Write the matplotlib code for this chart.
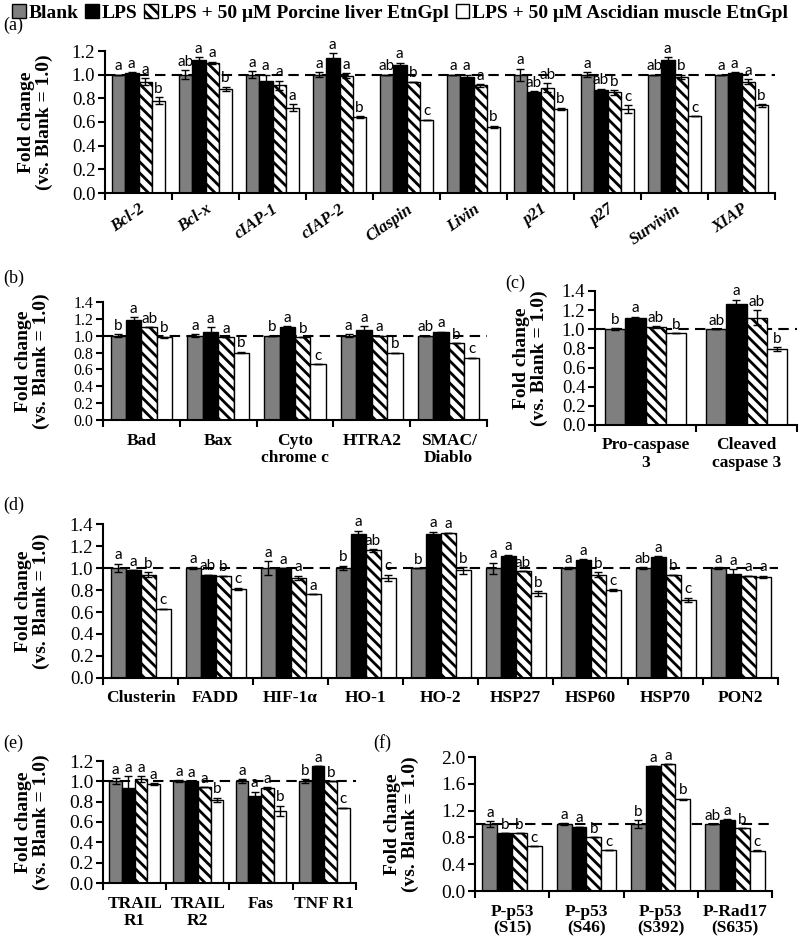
import numpy as np
import matplotlib
matplotlib.use("Agg")
import matplotlib.pyplot as plt
from matplotlib.patches import Patch

plt.rcParams['font.family'] = ['Liberation Serif', 'DejaVu Serif']
plt.rcParams['hatch.linewidth'] = 2.0
plt.rcParams['axes.linewidth'] = 1.5

W, H = 800, 943

series_names = ["Blank", "LPS", "LPS + 50 \u03bcM Porcine liver EtnGpl",
                "LPS + 50 \u03bcM Ascidian muscle EtnGpl"]

# (a)
a_cats = ["Bcl-2", "Bcl-x", "cIAP-1", "cIAP-2", "Claspin", "Livin", "p21", "p27", "Survivin", "XIAP"]
a_blank = [1.00, 1.00, 1.00, 1.00, 1.00, 1.00, 1.00, 1.00, 1.00, 1.00]
a_lps = [1.01, 1.12, 0.95, 1.14, 1.08, 0.98, 0.85, 0.87, 1.12, 1.01]
a_por = [0.94, 1.10, 0.91, 0.99, 0.94, 0.91, 0.89, 0.85, 0.98, 0.94]
a_asc = [0.78, 0.88, 0.72, 0.64, 0.62, 0.56, 0.71, 0.71, 0.65, 0.74]
a_err_blank = [0.00, 0.04, 0.03, 0.02, 0.00, 0.00, 0.05, 0.02, 0.00, 0.00]
a_err_lps = [0.01, 0.03, 0.05, 0.04, 0.02, 0.02, 0.01, 0.01, 0.03, 0.01]
a_err_por = [0.03, 0.01, 0.04, 0.02, 0.00, 0.01, 0.04, 0.02, 0.02, 0.02]
a_err_asc = [0.03, 0.02, 0.03, 0.01, 0.00, 0.01, 0.01, 0.03, 0.00, 0.01]
a_sig = ["a a a b", "ab a a b", "a a a a", "a a a b", "ab a b c",
         "a a a b", "a ab ab b", "a ab b c", "ab a b c", "a a a b"]

# (b)
b_cats = ["Bad", "Bax", "Cyto\nchrome c", "HTRA2", "SMAC/\nDiablo"]
b_blank = [1.00, 1.00, 1.00, 1.00, 1.00]
b_lps = [1.19, 1.04, 1.10, 1.07, 1.04]
b_por = [1.10, 0.98, 0.98, 1.00, 0.91]
b_asc = [0.98, 0.80, 0.66, 0.80, 0.74]
b_err_blank = [0.02, 0.02, 0.00, 0.02, 0.00]
b_err_lps = [0.03, 0.06, 0.01, 0.04, 0.01]
b_err_por = [0.00, 0.00, 0.00, 0.00, 0.00]
b_err_asc = [0.01, 0.01, 0.00, 0.00, 0.00]
b_sig = ["b a ab b", "a a a b", "b a b c", "a a a b", "ab a b c"]

# (c)
c_cats = ["Pro-caspase\n3", "Cleaved\ncaspase 3"]
c_blank = [1.00, 1.00]
c_lps = [1.12, 1.26]
c_por = [1.02, 1.12]
c_asc = [0.96, 0.79]
c_err_blank = [0.01, 0.00]
c_err_lps = [0.01, 0.05]
c_err_por = [0.01, 0.08]
c_err_asc = [0.00, 0.02]
c_sig = ["b a ab b", "ab a ab b"]

# (d)
d_cats = ["Clusterin", "FADD", "HIF-1\u03b1", "HO-1", "HO-2", "HSP27", "HSP60", "HSP70", "PON2"]
d_blank = [1.00, 1.00, 1.00, 1.00, 1.00, 1.00, 1.00, 1.00, 1.00]
d_lps = [0.98, 0.94, 1.00, 1.31, 1.31, 1.11, 1.07, 1.10, 0.95]
d_por = [0.94, 0.93, 0.91, 1.16, 1.32, 0.97, 0.94, 0.94, 0.93]
d_asc = [0.63, 0.81, 0.76, 0.91, 0.98, 0.77, 0.80, 0.71, 0.92]
d_err_blank = [0.04, 0.01, 0.06, 0.02, 0.00, 0.05, 0.01, 0.01, 0.01]
d_err_lps = [0.00, 0.00, 0.00, 0.03, 0.02, 0.01, 0.01, 0.01, 0.04]
d_err_por = [0.02, 0.00, 0.02, 0.01, 0.00, 0.00, 0.02, 0.00, 0.00]
d_err_asc = [0.00, 0.01, 0.00, 0.03, 0.03, 0.02, 0.01, 0.02, 0.01]
d_sig = ["a a b c", "a ab b c", "a a a a", "b a ab c", "b a a b",
         "a a ab b", "a a b c", "ab a b c", "a a a a"]

# (e)
e_cats = ["TRAIL\nR1", "TRAIL\nR2", "Fas", "TNF R1"]
e_blank = [1.00, 1.00, 1.00, 1.00]
e_lps = [0.93, 1.00, 0.86, 1.15]
e_por = [1.02, 0.94, 0.93, 1.00]
e_asc = [0.97, 0.82, 0.71, 0.74]
e_err_blank = [0.03, 0.01, 0.02, 0.02]
e_err_lps = [0.12, 0.00, 0.04, 0.00]
e_err_por = [0.03, 0.00, 0.01, 0.00]
e_err_asc = [0.01, 0.02, 0.05, 0.00]
e_sig = ["a a a a", "a a a b", "a a a b", "b a b c"]

# (f)
f_cats = ["P-p53\n(S15)", "P-p53\n(S46)", "P-p53\n(S392)", "P-Rad17\n(S635)"]
f_blank = [1.00, 1.00, 1.00, 1.00]
f_lps = [0.86, 0.96, 1.86, 1.06]
f_por = [0.86, 0.80, 1.89, 0.94]
f_asc = [0.67, 0.61, 1.37, 0.60]
f_err_blank = [0.04, 0.01, 0.06, 0.00]
f_err_lps = [0.00, 0.00, 0.00, 0.01]
f_err_por = [0.00, 0.00, 0.00, 0.00]
f_err_asc = [0.00, 0.00, 0.01, 0.01]
f_sig = ["a b b c", "a a b c", "b a a b", "ab a b c"]

fills = ['#7f7f7f', 'black', 'white', 'white']
hatches = [None, None, '\\\\\\', None]


def px_axes(fig, left, top, right, bottom):
    return fig.add_axes([left / W, 1 - bottom / H, (right - left) / W, (bottom - top) / H])


def draw_panel(ax, cats, vals, errs, sig, ymax, ystep, tick_fs=13.5,
               lab_fs=12.5, rot=0, italic=False, ylab_right=None, ax_px=None):
    n = len(cats)
    x = np.arange(n) + 0.5
    w = 0.2
    letters = [s.split() for s in sig]
    ax.axhline(1.0, color='black', ls=(0, (5, 3)), lw=1.5, zorder=1)
    for k in range(4):
        xs = x + (k - 1.5) * w
        ax.bar(xs, vals[k], w, yerr=errs[k], color=fills[k], edgecolor='black',
               lw=1, hatch=hatches[k], capsize=3, zorder=2,
               error_kw=dict(elinewidth=1, capthick=1, ecolor='black', zorder=3))
        for i in range(n):
            ax.annotate(letters[i][k], (xs[i], vals[k][i] + errs[k][i]),
                        xytext=(0, 1), textcoords='offset points', ha='center',
                        va='bottom', fontsize=11, family='Lato')
    ax.set_xlim(0, n)
    ax.set_ylim(0, ymax)
    ax.set_yticks(np.arange(0, ymax + 1e-9, ystep))
    ax.set_yticklabels(["%.1f" % t for t in np.arange(0, ymax + 1e-9, ystep)], fontsize=tick_fs)
    ax.set_xticks(np.arange(n + 1))
    ax.set_xticklabels([])
    ax.set_xticks(x, minor=True)
    if rot:
        ax.set_xticklabels(cats, minor=True, fontsize=lab_fs, fontweight='bold',
                           fontstyle='italic' if italic else 'normal',
                           rotation=rot, ha='right', rotation_mode='anchor')
    else:
        ax.set_xticklabels(cats, minor=True, fontsize=lab_fs, fontweight='bold',
                           linespacing=1.1)
    ax.tick_params(axis='both', which='major', direction='out', length=5, width=1.5)
    ax.tick_params(axis='y', pad=2)
    ax.tick_params(axis='x', which='minor', length=0, pad=9)
    for s in ['top', 'right']:
        ax.spines[s].set_visible(False)
    ax.set_ylabel("Fold change\n(vs. Blank = 1.0)", fontsize=14, fontweight='bold',
                  linespacing=1.05)
    left, right = ax_px
    ax.yaxis.set_label_coords((ylab_right - left) / (right - left), 0.5)


fig = plt.figure(figsize=(W / 100, H / 100), dpi=100)

ax_a = px_axes(fig, 105, 51, 775, 193)
draw_panel(ax_a, a_cats, [a_blank, a_lps, a_por, a_asc],
           [a_err_blank, a_err_lps, a_err_por, a_err_asc], a_sig, 1.2, 0.2,
           rot=35, italic=True, lab_fs=12, ylab_right=53, ax_px=(105, 775))
ax_a.tick_params(axis='x', which='minor', pad=6)

ax_b = px_axes(fig, 103, 302, 487, 420)
draw_panel(ax_b, b_cats, [b_blank, b_lps, b_por, b_asc],
           [b_err_blank, b_err_lps, b_err_por, b_err_asc], b_sig, 1.4, 0.2,
           tick_fs=11.5, ylab_right=50, ax_px=(103, 487))

ax_c = px_axes(fig, 595, 291, 797, 425)
draw_panel(ax_c, c_cats, [c_blank, c_lps, c_por, c_asc],
           [c_err_blank, c_err_lps, c_err_por, c_err_asc], c_sig, 1.4, 0.2,
           ylab_right=548, ax_px=(595, 797))

ax_d = px_axes(fig, 103, 524, 778, 678)
draw_panel(ax_d, d_cats, [d_blank, d_lps, d_por, d_asc],
           [d_err_blank, d_err_lps, d_err_por, d_err_asc], d_sig, 1.4, 0.2,
           ylab_right=50, ax_px=(103, 778))

ax_e = px_axes(fig, 103, 761, 356, 883)
draw_panel(ax_e, e_cats, [e_blank, e_lps, e_por, e_asc],
           [e_err_blank, e_err_lps, e_err_por, e_err_asc], e_sig, 1.2, 0.2,
           tick_fs=14, ylab_right=50, ax_px=(103, 356))

ax_f = px_axes(fig, 475, 757, 772, 891)
draw_panel(ax_f, f_cats, [f_blank, f_lps, f_por, f_asc],
           [f_err_blank, f_err_lps, f_err_por, f_err_asc], f_sig, 2.0, 0.4,
           tick_fs=14, ylab_right=419, ax_px=(475, 772))

# panel letters
for lab, px, py in [("(a)", 3, 25), ("(b)", 3, 278), ("(c)", 505, 283),
                    ("(d)", 3, 505), ("(e)", 3, 743), ("(f)", 373, 743)]:
    fig.text(px / W, 1 - py / H, lab, fontsize=13, ha='left', va='center')

handles = [Patch(facecolor=fills[k], edgecolor='black', hatch=hatches[k], lw=1)
           for k in range(4)]
fig.legend(handles, series_names, loc='upper center', bbox_to_anchor=(0.5, 1.0),
           ncol=4, frameon=False, prop=dict(family='Liberation Serif', weight='bold', size=14),
           handlelength=0.7, handleheight=0.7, handletextpad=0.15, columnspacing=0.35,
           borderaxespad=0.1, borderpad=0.1)

fig.savefig("out.png", dpi=100)
